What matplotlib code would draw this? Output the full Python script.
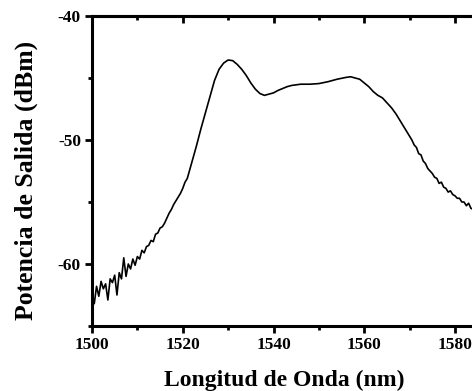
import matplotlib
matplotlib.use("Agg")
import matplotlib.pyplot as plt
from matplotlib.ticker import MultipleLocator

# longitud de onda (nm) y potencia de salida (dBm)
wl = [1500.0, 1500.5, 1501.0, 1501.5, 1502.0, 1502.5, 1503.0, 1503.5, 1504.0, 1504.5,
	1505.0, 1505.5, 1506.0, 1506.5, 1507.0, 1507.5, 1508.0, 1508.5, 1509.0, 1509.5,
	1510.0, 1510.5, 1511.0, 1511.5, 1512.0, 1512.5, 1513.0, 1513.5, 1514.0, 1514.5,
	1515.0, 1515.5, 1516.0, 1516.5, 1517.0, 1517.5, 1518.0, 1518.5, 1519.0, 1519.5,
	1520.0, 1520.5, 1521.0, 1522.0, 1523.0, 1524.0, 1525.0, 1526.0, 1527.0, 1528.0,
	1529.0, 1530.0, 1531.0, 1532.0, 1533.0, 1534.0, 1535.0, 1536.0, 1537.0, 1538.0,
	1539.0, 1540.0, 1541.0, 1542.0, 1543.0, 1544.0, 1546.0, 1548.0, 1550.0, 1552.0,
	1554.0, 1556.0, 1557.0, 1558.0, 1559.0, 1560.0, 1561.0, 1562.0, 1563.0, 1564.0,
	1565.0, 1566.0, 1567.0, 1568.0, 1569.0, 1570.0, 1570.5, 1571.0, 1571.5, 1572.0,
	1572.5, 1573.0, 1573.5, 1574.0, 1574.5, 1575.0, 1575.5, 1576.0, 1576.5, 1577.0,
	1577.5, 1578.0, 1578.5, 1579.0, 1579.5, 1580.0, 1580.5, 1581.0, 1581.5, 1582.0,
	1582.5, 1583.0, 1583.5, 1584.0]
pot = [-62.3, -63.2, -61.8, -62.6, -61.4, -62.0, -61.6, -62.9, -61.2, -61.5,
	-60.9, -62.5, -60.7, -61.2, -59.5, -61.0, -60.0, -60.4, -59.6, -60.1,
	-59.4, -59.6, -58.9, -59.1, -58.6, -58.5, -58.1, -58.2, -57.6, -57.5,
	-57.1, -57.0, -56.7, -56.3, -55.9, -55.6, -55.2, -54.9, -54.6, -54.3,
	-53.9, -53.4, -53.1, -51.8, -50.5, -49.1, -47.8, -46.5, -45.2, -44.3,
	-43.8, -43.55, -43.6, -43.9, -44.3, -44.8, -45.4, -45.9, -46.25, -46.4,
	-46.3, -46.2, -46.0, -45.85, -45.7, -45.6, -45.5, -45.5, -45.45, -45.3,
	-45.1, -44.95, -44.9, -45.0, -45.1, -45.4, -45.7, -46.1, -46.4, -46.6,
	-47.0, -47.4, -47.9, -48.5, -49.1, -49.7, -50.0, -50.4, -50.6, -51.1,
	-51.2, -51.7, -51.9, -52.3, -52.5, -52.7, -53.0, -53.1, -53.5, -53.4,
	-53.8, -53.9, -54.2, -54.1, -54.4, -54.5, -54.7, -54.7, -55.0, -55.0,
	-55.3, -55.1, -55.5, -55.6]

xticks = [1500, 1520, 1540, 1560, 1580]
yticks = [-60, -50, -40]

plt.rcParams['font.family'] = ['Liberation Serif', 'DejaVu Serif']
plt.rcParams['font.weight'] = 'bold'
plt.rcParams['axes.unicode_minus'] = False

fig = plt.figure(figsize=(4.72, 3.91), dpi=100)
# el eje se sale por la derecha, como en la imagen recortada
ax = fig.add_axes([92/472, 65/391, 453.75/472, 310/391])
ax.plot(wl, pot, color='black', lw=1.2)

ax.set_xlim(1500, 1600)
ax.set_ylim(-65, -40)
ax.set_xticks(xticks)
ax.set_yticks(yticks)
ax.xaxis.set_minor_locator(MultipleLocator(10))
ax.yaxis.set_minor_locator(MultipleLocator(5))
ax.tick_params(which='major', direction='out', length=5, width=2, labelsize=12.5, pad=3)
ax.tick_params(which='minor', direction='out', length=3, width=2)
for lab in ax.get_xticklabels() + ax.get_yticklabels():
	lab.set_fontweight('bold')
for s in ax.spines.values():
	s.set_linewidth(2.2)

top = ax.secondary_xaxis('top')
top.set_xticks(xticks)
top.xaxis.set_minor_locator(MultipleLocator(10))
top.tick_params(which='major', direction='in', length=5, width=2, labeltop=False)
top.tick_params(which='minor', direction='in', length=3, width=2)
top.spines['top'].set_linewidth(2.2)

ax.set_xlabel('Longitud de Onda (nm)', fontsize=17, fontweight='bold', va='baseline', ha='center')
ax.xaxis.set_label_coords(0.4235, -0.1935)
ax.set_ylabel('Potencia de Salida (dBm)', fontsize=18.5, fontweight='bold', va='center', ha='center')
ax.yaxis.set_label_coords(-0.145, 0.47)

fig.savefig('out.png', dpi=100)
